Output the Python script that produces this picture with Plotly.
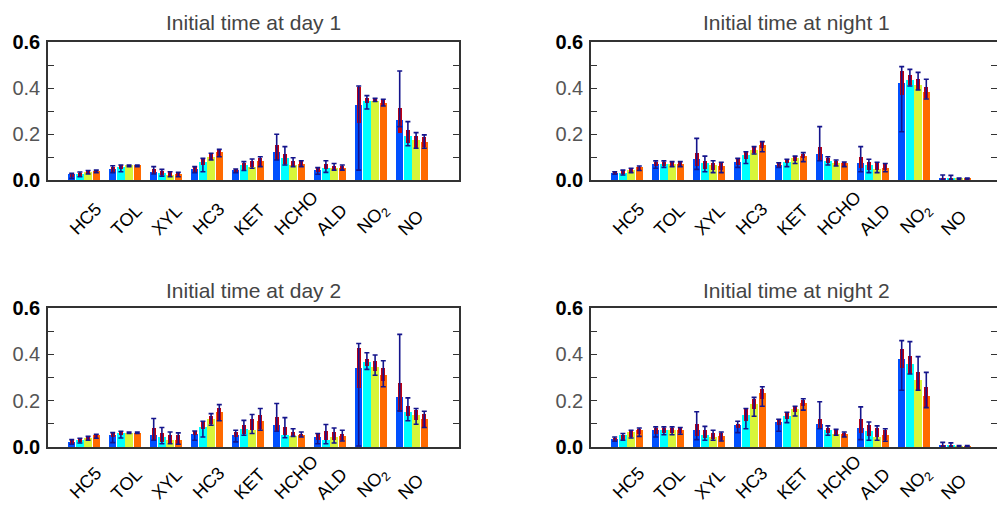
import plotly.graph_objects as go

CATEGORIES = ["HC5", "TOL", "XYL", "HC3", "KET", "HCHO", "ALD", "NO<sub>2</sub>", "NO"]
SERIES_COLORS = ["#0050ff", "#00ffff", "#d7f53a", "#ff6a00"]
TITLES = ["Initial time at day 1", "Initial time at night 1",
          "Initial time at day 2", "Initial time at night 2"]
Y_TICKS = [0.0, 0.1, 0.2, 0.3, 0.4, 0.5, 0.6]
Y_TICKTEXT = ["<b>0.0</b>", "", "<span style='color:#555'>0.2</span>", "",
              "<span style='color:#555'>0.4</span>", "", "<b>0.6</b>"]

# ---------------- Panel 1: day 1 ----------------
D1_VAL = [[.026, .046, .036, .046, .043, .123, .043, .326, .261],
          [.026, .058, .029, .080, .065, .094, .051, .343, .191],
          [.036, .065, .022, .099, .058, .065, .051, .343, .174],
          [.040, .065, .026, .123, .084, .068, .054, .336, .167]]
D1_BOX_LO = [[.012, .036, .026, .036, .036, .087, .036, .246, .206],
             [.017, .049, .022, .065, .043, .068, .046, .333, .159],
             [.026, .058, .017, .087, .055, .061, .043, .340, .138],
             [.032, .058, .017, .101, .061, .058, .043, .322, .145]]
D1_BOX_HI = [[.026, .058, .046, .055, .046, .152, .051, .406, .312],
             [.032, .064, .039, .094, .075, .112, .070, .355, .217],
             [.038, .065, .033, .116, .084, .083, .061, .352, .191],
             [.042, .065, .029, .130, .094, .083, .062, .348, .188]]
D1_WHI_LO = [[.007, .032, .026, .032, .032, .087, .025, .043, .232],
             [.014, .036, .017, .036, .041, .065, .033, .309, .149],
             [.026, .058, .014, .087, .051, .058, .043, .341, .138],
             [.032, .058, .014, .101, .058, .058, .043, .322, .138]]
D1_WHI_HI = [[.029, .062, .058, .058, .048, .199, .054, .409, .474],
             [.035, .065, .046, .094, .080, .145, .084, .367, .254],
             [.041, .065, .036, .116, .091, .097, .072, .355, .206],
             [.043, .065, .033, .133, .101, .084, .065, .351, .196]]

# ---------------- Panel 2: night 1 ----------------
N1_VAL = [[.032, .068, .090, .077, .065, .113, .075, .420, .010],
          [.032, .068, .072, .109, .080, .083, .065, .435, .010],
          [.043, .068, .065, .130, .094, .075, .046, .413, .005],
          [.055, .068, .061, .152, .106, .072, .051, .384, .005]]
N1_BOX_LO = [[.025, .061, .061, .065, .058, .084, .054, .370, .003],
             [.026, .061, .046, .091, .072, .072, .043, .413, .003],
             [.036, .061, .043, .116, .083, .062, .043, .391, .002],
             [.043, .061, .043, .141, .094, .061, .043, .355, .002]]
N1_BOX_HI = [[.036, .077, .119, .090, .072, .145, .101, .475, .010],
             [.041, .077, .083, .120, .087, .094, .080, .457, .008],
             [.048, .077, .075, .142, .101, .084, .072, .439, .006],
             [.058, .077, .072, .164, .113, .078, .070, .406, .006]]
N1_WHI_LO = [[.025, .051, .046, .055, .055, .084, .036, .210, .000],
             [.022, .055, .036, .072, .058, .065, .032, .409, .000],
             [.032, .058, .032, .113, .072, .061, .032, .391, .000],
             [.041, .058, .032, .123, .080, .058, .036, .352, .000]]
N1_WHI_HI = [[.036, .083, .181, .094, .075, .232, .145, .493, .022],
             [.043, .083, .104, .123, .090, .101, .090, .481, .020],
             [.051, .080, .084, .145, .104, .087, .077, .468, .008],
             [.061, .080, .077, .167, .119, .078, .072, .438, .008]]

# ---------------- Panel 3: day 2 ----------------
D2_VAL = [[.022, .053, .053, .058, .053, .097, .043, .339, .214],
          [.029, .061, .043, .087, .079, .050, .032, .365, .152],
          [.039, .062, .029, .123, .072, .046, .043, .346, .137],
          [.050, .062, .032, .152, .111, .050, .046, .310, .123]]
D2_BOX_LO = [[.014, .043, .029, .051, .043, .068, .029, .253, .152],
             [.022, .051, .022, .079, .058, .050, .032, .349, .133],
             [.032, .058, .014, .101, .072, .046, .032, .329, .118],
             [.040, .058, .012, .116, .079, .043, .032, .286, .084]]
D2_BOX_HI = [[.029, .062, .082, .068, .065, .130, .055, .426, .278],
             [.035, .065, .061, .108, .094, .087, .069, .378, .176],
             [.043, .065, .051, .133, .120, .063, .065, .371, .159],
             [.053, .065, .051, .169, .137, .055, .055, .339, .144]]
D2_WHI_LO = [[.012, .019, .029, .029, .022, .068, .014, .004, .156],
             [.017, .039, .014, .043, .051, .040, .014, .335, .113],
             [.029, .058, .014, .094, .058, .046, .017, .310, .098],
             [.038, .058, .012, .113, .072, .043, .026, .260, .084]]
D2_WHI_HI = [[.032, .062, .123, .069, .072, .188, .058, .447, .486],
             [.038, .068, .084, .111, .115, .127, .097, .407, .212],
             [.046, .065, .065, .144, .140, .079, .082, .397, .166],
             [.055, .065, .061, .183, .166, .065, .072, .372, .154]]

# ---------------- Panel 4: night 2 ----------------
N2_VAL = [[.036, .072, .072, .094, .107, .098, .084, .382, .010],
          [.050, .072, .053, .137, .133, .075, .068, .358, .010],
          [.065, .072, .043, .185, .163, .055, .043, .289, .004],
          [.075, .072, .046, .231, .190, .055, .050, .219, .004]]
N2_BOX_LO = [[.025, .058, .046, .082, .094, .079, .061, .342, .003],
             [.032, .061, .040, .113, .120, .062, .048, .315, .003],
             [.043, .061, .036, .163, .152, .053, .043, .245, .001],
             [.055, .061, .032, .206, .176, .043, .032, .170, .001]]
N2_BOX_HI = [[.039, .082, .098, .101, .120, .120, .120, .423, .008],
             [.053, .082, .072, .162, .147, .082, .094, .392, .007],
             [.068, .082, .062, .206, .173, .076, .082, .325, .005],
             [.079, .082, .061, .250, .205, .062, .072, .257, .005]]
N2_WHI_LO = [[.025, .043, .032, .062, .068, .079, .032, .245, .000],
             [.029, .053, .029, .079, .105, .051, .029, .315, .000],
             [.039, .053, .029, .133, .134, .051, .029, .245, .000],
             [.046, .055, .026, .176, .159, .043, .025, .170, .000]]
N2_WHI_HI = [[.043, .087, .152, .111, .120, .195, .173, .459, .020],
             [.058, .087, .089, .166, .150, .091, .108, .455, .018],
             [.072, .087, .072, .214, .176, .076, .091, .390, .006],
             [.082, .084, .065, .260, .208, .065, .079, .322, .006]]

PANELS = [
    (D1_VAL, D1_BOX_LO, D1_BOX_HI, D1_WHI_LO, D1_WHI_HI),
    (N1_VAL, N1_BOX_LO, N1_BOX_HI, N1_WHI_LO, N1_WHI_HI),
    (D2_VAL, D2_BOX_LO, D2_BOX_HI, D2_WHI_LO, D2_WHI_HI),
    (N2_VAL, N2_BOX_LO, N2_BOX_HI, N2_WHI_LO, N2_WHI_HI),
]

W, H = 997, 507
OFFSETS = [-0.3, -0.1, 0.1, 0.3]
# pixel geometry of the plot areas
X_DOM = [(48, 459), (591, 997), (48, 459), (591, 997)]
Y_DOM = [(42, 180), (42, 180), (308, 447), (308, 447)]
CAT_PX = 41.0
FIRST_CAT_PX = 36.0
TITLE_Y = [22, 22, 290, 290]
LABEL_BOTTOM_GAP = [62, 62, 59, 59]   # px from x axis to bottom of rotated labels

fig = go.Figure()
n = len(CATEGORIES)
for p, (val, blo, bhi, wlo, whi) in enumerate(PANELS):
    xa = "x" if p == 0 else f"x{p+1}"
    ya = "y" if p == 0 else f"y{p+1}"
    for s in range(4):
        xs = [i + OFFSETS[s] for i in range(n)]
        fig.add_trace(go.Bar(x=xs, y=val[s], width=0.18, marker_color=SERIES_COLORS[s],
                             marker_line_width=0, xaxis=xa, yaxis=ya, showlegend=False))
    for s in range(4):
        xs = [i + OFFSETS[s] for i in range(n)]
        fig.add_trace(go.Bar(x=xs, y=[h - l for l, h in zip(blo[s], bhi[s])], base=blo[s],
                             width=0.1, marker_color="#c00010", marker_line_width=0,
                             xaxis=xa, yaxis=ya, showlegend=False))
    for s in range(4):
        xs = [i + OFFSETS[s] for i in range(n)]
        fig.add_trace(go.Scatter(
            x=xs, y=wlo[s], mode="markers", marker=dict(size=1, color="rgba(0,0,0,0)"),
            error_y=dict(type="data", symmetric=False,
                         array=[h - l for l, h in zip(wlo[s], whi[s])],
                         arrayminus=[0] * n, color="#14148c", thickness=1.6, width=2.5),
            xaxis=xa, yaxis=ya, showlegend=False, hoverinfo="skip"))

    x0, x1 = X_DOM[p]
    y0, y1 = Y_DOM[p]
    xr0 = -FIRST_CAT_PX / CAT_PX
    xr1 = xr0 + (x1 - x0) / CAT_PX
    xkey = "xaxis" if p == 0 else f"xaxis{p+1}"
    ykey = "yaxis" if p == 0 else f"yaxis{p+1}"
    fig.update_layout(**{
        xkey: dict(domain=[x0 / W, x1 / W], range=[xr0, xr1], anchor=ya, automargin=False,
                   showticklabels=False, ticks="", showline=True, linewidth=2,
                   linecolor="#333", mirror=True, showgrid=False, zeroline=False),
        ykey: dict(domain=[1 - y1 / H, 1 - y0 / H], range=[0, 0.6], anchor=xa,
                   automargin=False,
                   tickvals=Y_TICKS, ticktext=Y_TICKTEXT, ticks="inside", ticklen=6,
                   tickwidth=1.3, tickcolor="#333", showline=True, linewidth=1.5,
                   linecolor="#333", mirror="ticks", showgrid=False, zeroline=False,
                   ticklabelstandoff=2,
                   tickfont=dict(family="Liberation Sans", size=20, color="#000")),
    })
    # rotated category labels, bottom-left aligned like the original
    for i, cat in enumerate(CATEGORIES):
        fig.add_annotation(x=i, xref=xa, y=1 - (y1 + LABEL_BOTTOM_GAP[p]) / H, yref="paper",
                           text=cat, textangle=-45, showarrow=False,
                           xanchor="left", yanchor="bottom", xshift=-21,
                           font=dict(family="Liberation Sans", size=18, color="#000"))
    fig.add_annotation(x=(x0 + x1) / 2 / W if p % 2 == 0 else (x0 + 1002) / 2 / W,
                       y=1 - TITLE_Y[p] / H, xref="paper", yref="paper",
                       text=TITLES[p], showarrow=False, xanchor="center", yanchor="middle",
                       font=dict(family="Liberation Sans", size=21, color="#444"))

fig.update_layout(width=W, height=H, margin=dict(l=0, r=0, t=0, b=0, autoexpand=False),
                  barmode="overlay", plot_bgcolor="white", paper_bgcolor="white",
                  bargap=0)
fig.write_html("out.html")
